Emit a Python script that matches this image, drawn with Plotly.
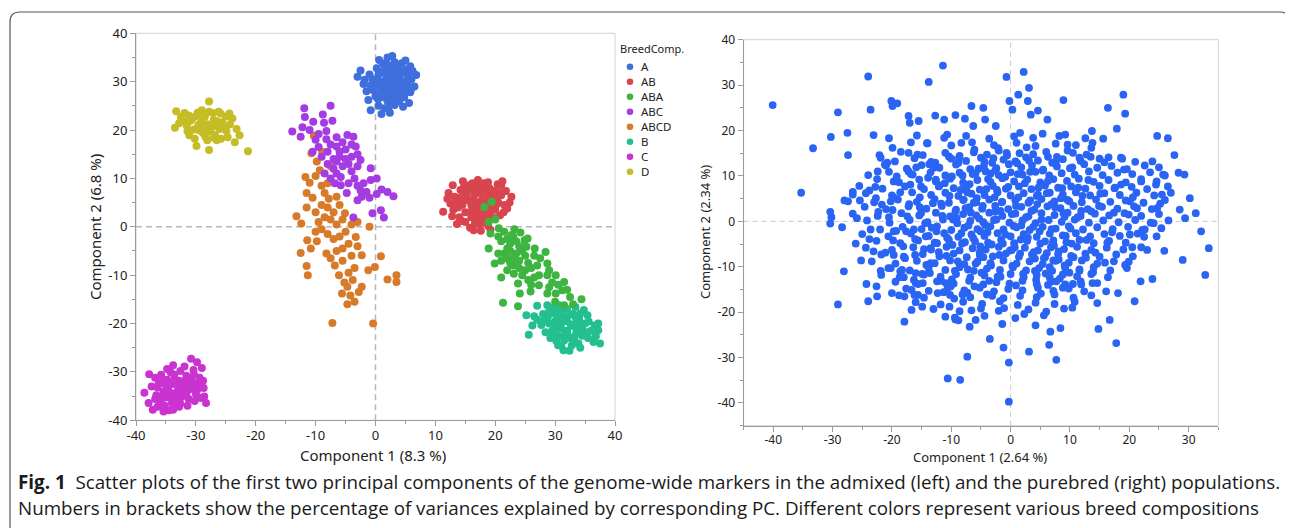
import plotly.graph_objects as go

# ---------------- data ----------------
CATEGORIES = ["A", "AB", "ABA", "ABC", "ABCD", "B", "C", "D"]
COLORS = ["#3f6fdd", "#d8454f", "#3db540", "#a43be3", "#d77b2a", "#23bf8f", "#cb33d1", "#c5bd26"]

A_PTS = [(-2.5,32.3),(-3,31),(-2,29.5),(-1.5,28),(-0.8,24.1),(1,23.3),(-1.2,26.2),(0,27),(0.5,25),(1.5,24.5),
         (2,26),(2.8,35.3),(0.6,34.5),(4.4,33.8),(6.8,31.4),(5.6,25.6),(4,25.9),(3,27),(3.5,28.5),(2.5,29),
         (1,30),(0.5,31.5),(1.5,32.5),(2,33.5),(3,32),(4,31),(5,30),(5.5,29),(4.5,28),(3.8,27),(2.2,28),
         (1.2,28.5),(0,29.5),(-0.5,30.5),(0.2,32.8),(3.2,34),(5.2,32.5),(6,30.5),(6.5,29),(5.8,27.8),(4.8,26.8),
         (3,26),(2,27.2),(1,26.8),(-0.3,28.2),(2.8,30.5),(3.6,29.8),(4.2,30.2),(1.8,31),(2.4,31.8),(3.4,31.2),
         (4.6,32),(5.4,31.2),(0.8,29),(1.6,29.6),(2.6,28.2),(4.4,29),(5,28.2),(6.2,32.2),(-1,31.5),(1.2,33.8),
         (3.8,33),(2.2,24.8),(4.6,24.8),(0.4,26.4),(5.8,33.2),(3.2,30),(2,30.4),(4,30.8),
         (1.5,27.5),(2.8,27.8),(3.6,26.2),(4.8,29.6),(5.6,30.6),(3.2,28.8),(1.9,29.2),(0.4,30.2),(-0.8,29.2),
         (2.6,32.6),(4,32.4),(3.4,33.4),(1,32),(2,35),(5,34.4),(6,28.6),(0.8,27.6),(-1.8,30.4),(2.4,23.6),(3.2,25.2)]

AB_PTS = [(11.3,3.1),(12.9,8.6),(14.6,9.4),(17.1,9.7),(21,8.6),(22.7,6.2),(13.6,0.6),(16.4,-0.7),(19.2,-0.6),
          (12.5,4.8),(22,3.8),(14,6),(15,7),(16,8),(17,8.5),(18,9),(19,8),(20,7.5),(21,6.5),(20.5,5),(21.5,4.5),
          (20,3.5),(19,2.5),(18,2),(17,1.5),(16,2),(15,3),(14.5,4.5),(15.5,5.5),(16.5,6.5),(17.5,7),(18.5,6),
          (19.5,5.5),(18,4.5),(17,4),(16,4.5),(15,1),(17.5,0.5),(18.5,1),(19.8,1.8),(13.5,5),(14.2,7.6),(16.2,9),
          (18.8,9.2),(20.4,8.8),(21.8,7.4),(13,3.5),(14,2),(16.8,3),(18.2,3.4),(19.4,4),(17.8,5.6),(16.4,5.2),
          (15.2,6.4),(20.8,2.4),(15.8,-0.2),(17.6,-0.8),(12.2,7),(19,7),(17.2,2.6),(14.8,8.4),(18.6,5),(16,7.6),
          (20.2,6.2),(21.4,3),
          (13.8,4),(14.6,5.8),(16,3.2),(16.8,7.2),(17.8,8),(18.4,7.6),(19.6,6.6),(20.8,7),(19.2,3.2),(17.4,5.2),
          (15.6,8.6),(13.2,6.2),(12,5.8),(14.4,1.2),(18.8,0.2),(20.2,4.6),(16.6,0.8),(22.4,5),(12.8,2.2),(21.2,9.4)]

ABA_PTS = [(18.2,4.1),(19.4,5.2),(18.9,1),(19.2,-1.4),(18.9,-4.5),(20.6,-0.3),(22.7,-1.7),(25.2,-4.1),(26.6,-4.5),
           (28.4,-5.2),(28.7,-7.6),(27.3,-10),(28.7,-10),(30.1,-10),(31.5,-11.4),(31.2,-13.1),(28.7,-13.8),
           (30.1,-13.8),(27.3,-12.1),(24.1,-13.8),(25.9,-13.4),(21.3,-15.7),(23.8,-16.4),(19.9,-7.6),(22.4,-6.9),
           (23.1,-9.7),(23.8,-11.7),(34.4,-15),(31.5,-16.2),(24.9,-2.8),(20,1.5),(20.5,-2),(21,-3),(21.5,-1),
           (22,-2.5),(22.5,-3.5),(23,-2),(23.5,-3),(24,-4),(24.5,-5),(23.5,-5.5),(22.5,-5),(22,-4.5),(21.5,-5.5),
           (22,-6.5),(23,-6.5),(24,-7),(25,-6),(25.5,-7.5),(26,-8.5),(25,-9),(24,-8.5),(23,-8),(22.5,-7.5),
           (24.5,-10),(25.5,-11),(26.5,-10.5),(27,-8),(26.5,-6),(27.5,-6.5),(29,-9),(29.5,-11.5),(30.5,-12),
           (32,-13),(32.5,-14.5),(33,-16),(30,-15.5),(29,-12.5),(26,-12),(22,-9),(21,-7),(20.5,-5.5),(21,-10.5),
           (23.2,-0.5),(24.2,-1.2),(25.4,-2.4)]

ABC_PTS = [(-11.9,24.5),(-7.5,25),(-8.8,23.2),(-7.2,21.9),(-13.9,19.7),(-12.5,18.6),(-11.8,22.7),(-10.4,21.7),
           (-8.6,21.5),(-4.7,19),(-3.7,18.6),(-0.8,12.1),(-0.8,9.7),(1,7.7),(3,6.3),(-1.5,7.2),(-3,5.5),(-0.5,2.8),
           (0.9,3.4),(1.4,1.9),(-3.7,1.9),(-8.2,18.1),(-6.5,16.6),(-4,14.5),(-3.3,16.6),(-5.8,10.3),(-2.3,6.2),
           (-5.8,8.6),(-11,20),(-10,18),(-9.5,16.5),(-10.5,15.5),(-9,14.5),(-8,15.5),(-7.5,17),(-6.5,18.5),
           (-5.5,17.5),(-5,16),(-4.5,13),(-5.5,12.5),(-6.5,13.5),(-7,12),(-8,13),(-8.5,11),(-7.5,10),(-6.5,11),
           (-4,11.5),(-3,12.5),(-3.5,10),(-4.5,9),(-3,8.5),(-2,9),(-2.5,7.5),(-1,6),(0.2,6.8),(2,7.2),(-6,14.5),
           (-5,14),(-6,15.5),(-7,14),(-4,17),(-3,15),(-2.5,13.8),(-9.5,19.2),(-12.2,20.6),(-8.2,19.8),(-6.8,9),
           (-4.8,7),(0.2,10)]

ABCD_PTS = [(-10.3,18.8),(-10.7,15.2),(-8.9,15.5),(-11.7,10.3),(-11,9.1),(-9.3,11.7),(-13.2,2.2),(-12.4,0.7),
            (-11.4,-2.8),(-12.5,-5.4),(-11.5,-8.1),(-11.3,-10),(-7.2,-19.9),(-0.4,-20),(-4.7,-16),(-3.5,-15.5),
            (2,-10.9),(3.5,-10),(3.5,-11.4),(0.9,-6.1),(-0.1,-8.3),(-1,0),(-2.3,-5.9),(-2.3,-12.4),(-4.7,-12.4),
            (-6.1,-10),(-8.2,-5.5),(-3.3,-2.1),(-5.1,2.8),(-6.5,6.2),(-11.5,7),(-10.5,6),(-11.5,4),(-10,3),(-9,4.5),
            (-8.5,7),(-8,9),(-9,8.5),(-10,10.5),(-8,4),(-7,3),(-6,4.5),(-5.5,1.5),(-6.5,0.5),(-7.5,1.5),(-8.5,2),
            (-9.5,1),(-10,-1),(-9,-0.5),(-8,-1.5),(-7,-2.5),(-6,-2),(-5,-1),(-4,0.5),(-4.5,-3.5),(-5.5,-4.5),
            (-6.5,-5),(-7.5,-6.5),(-6.8,-8),(-5.5,-7),(-4,-6),(-3,-4),(-3.5,-8.5),(-4.5,-9.5),(-5.2,-11.5),
            (-3.8,-11),(-2.8,-13.5),(-5.6,-13.8),(-9.8,-3),(-10.8,-4.5),(-7.5,12.5),(-9.8,13.5),(-7.8,5.8),
            (-4.2,-14.2),(-1.2,-9),(-3,1)]

B_PTS = [(25.6,-22.3),(25.2,-18.3),(27.7,-20.3),(27,-16.3),(28.7,-16.2),(30.7,-16.2),(34.2,-17.9),(35.4,-18.3),
         (37.2,-20),(37.5,-24.1),(31.4,-25.5),(30.5,-24.5),(33.9,-24.1),(37.2,-21.4),(26.5,-18.5),(28,-18),
         (29,-17.5),(30,-18),(31,-17.5),(32,-17),(33,-18),(34,-19),(35,-20),(34.5,-21),(33.5,-22),(32.5,-23),
         (31.5,-23.5),(30.5,-22.5),(29.5,-21.5),(29,-20),(30,-19.5),(31,-20),(32,-19.5),(33,-20.5),(32,-21.5),
         (31,-21),(30,-21),(33.5,-19),(34.5,-22.5),(35.5,-23),(36,-21.5),(32.8,-24.5),(29.2,-23),(28.4,-21.8),
         (31.8,-18.6),(30.4,-17),(33.4,-16.6),(35.6,-19.6),(36.4,-23.8),(32.2,-22.6),(28.2,-19.4),(27,-19.2),
         (26.2,-20.4),(34.2,-25),(31,-24.6),(32.6,-20.2),(30.8,-19),(33.8,-21.4),
         (30.2,-20.4),(31.4,-19.2),(32.6,-18.2),(34,-20.2),(33.2,-23.2),(31.6,-22.4),(29.8,-22.8),(35.2,-21.8),
         (36.6,-20.4),(28.8,-18.6),(32.4,-25.6),(30.2,-23.6),(34.8,-17.2),(29.4,-16.8),(36.8,-22.6)]

C_PTS = [(-37.8,-30.5),(-38.6,-34.3),(-37.9,-36.4),(-37.2,-37.8),(-36.4,-33.2),(-35.6,-31.9),(-35,-35.3),
         (-34.5,-37.9),(-34.2,-30.1),(-33.5,-31.5),(-33,-33.8),(-32.6,-36.6),(-31.9,-28.9),(-31.4,-32.4),
         (-30.8,-27.3),(-30.3,-30.6),(-30,-34.6),(-29.4,-31.2),(-29,-29.2),(-28.7,-33.3),(-28.6,-35.1),
         (-28.3,-36.4),(-29.5,-32.8),(-30.6,-32.9),(-31.6,-34.4),(-32.2,-33),(-33.4,-35.6),(-34.6,-33.7),
         (-35.4,-34.1),(-36,-36.2),(-35.2,-37),(-34,-36.4),(-33.8,-32.5),(-32.8,-31.8),(-31.6,-30.8),
         (-30.4,-29.6),(-32.4,-35.2),(-33.2,-34.2),(-34.4,-35.2),(-35.6,-35.4),(-36.6,-34.8),(-31.2,-35.6),
         (-29.8,-33.8),(-32.8,-37.2),(-33.6,-30.6),(-34.8,-31.6),(-31,-33.6),(-32,-32.2),(-33,-36.4),
         (-37.4,-33),(-36.8,-35.6),(-36.2,-32.4),(-35.8,-30.6),(-34.8,-29.4),(-33.8,-28.6),(-32.6,-29.8),
         (-31.8,-31.8),(-30.8,-31.4),(-30,-32.4),(-29.2,-35.4),(-30.2,-36),(-31.4,-37),(-33.8,-37.8),
         (-35.4,-38.2),(-36.4,-37.2),(-34.2,-34.4),(-32.8,-34.2),(-31.8,-33.6),(-29.8,-28),(-28.8,-31.8),
         (-35,-32.8),(-33,-32.6),(-36.8,-31.2)]

D_PTS = [(-33.5,20.5),(-33.3,23.9),(-32.5,22.7),(-31.9,23.5),(-31.5,20.9),(-31.1,18.9),(-30.6,22.3),
         (-30.3,20.1),(-29.9,16.7),(-29.7,23.6),(-29.2,21.5),(-28.8,19.4),(-28.5,22.8),(-28.1,17.9),
         (-27.8,25.9),(-27.8,15.9),(-27.5,20.7),(-27.2,23.5),(-26.8,19),(-26.5,21.8),(-26.2,23.8),(-25.8,18.2),
         (-25.3,20.5),(-25,22.8),(-24.7,18.5),(-24.3,21.2),(-23.9,22.4),(-23.5,17.5),(-22.7,18.9),(-21.3,15.6),
         (-30.9,21.9),(-29.4,19.9),(-28.1,21.2),(-27,22.1),(-26,20.2),(-24.9,19.8),(-29,24.1),(-31.9,21.7),
         (-28.4,18.6),(-26.5,17.9),(-25.9,23.4),(-30,22.9),(-27.6,19.7),
         (-32.8,21.4),(-31.2,23),(-30.2,18.2),(-28.8,22.6),(-27.8,23.8),(-26.8,20.8),(-25.6,21.6),(-24.4,23.4),
         (-29.6,21),(-27,18.4),(-23.2,20.2),(-28.4,20.2),(-31.4,19.8)]

RIGHT_PTS = [
    (-40.1,25.6),(-35.3,6.3),(-33.3,16.1),(-30.3,18.6),(-29.1,24),(-30.4,2.1),(-30.2,0.9),(-30.4,-0.5),(-29.1,-18.3),
    (-28.1,-11),(-27.5,19.5),(-27.4,14.6),(-27.4,4.4),(-26.6,5.9),(-26.6,6.5),(-25.9,0.7),(-26.1,-4.9),(-25.4,4.6),
    (-25.2,-8.6),(-24.3,-13.8),(-24,-17.6),(-24,31.9),(-23.8,6.8),(-23.8,-3.9),(-23.6,24.6),(-23.6,-1.8),(-23.1,19),
    (-23.1,-6.6),(-22.8,7.6),(-22.7,5.1),(-22.6,-14.3),(-22.5,-16.5),(-22.4,11),(-22.3,2.1),(-22.1,14.6),(-21.9,14),
    (-21.9,-10.9),(-21.7,3.7),(-21.2,12.5),(-20.8,12.9),(-20.5,0.9),(-20.2,4.4),(-20.2,-10.3),(-20.1,26.5),
    (-19.9,16.2),(-19.9,25.4),(-19.8,-4.2),(-19.7,8.8),(-19.7,5.3),(-19.7,-2.2),(-20,-15.8),(-19.7,-7.4),(-19.3,-2.1),
    (-19.1,26),(-18.7,-12.3),(-18.6,-11),(-18.3,-10.7),(-17.9,-22.1),(-17.9,-16.5),(-17.6,-2.2),(-17.2,23.2),
    (-17.2,15.1),(-17.2,11),(-17.1,3.8),(-17,21.7),(-16.8,17.4),(-16.8,10.4),(-16.7,-15.1),(-16.7,-19.5),(-16.3,-1.8),
    (-16.1,-7.4),(-16,-11.4),(-16,-13.6),(-15.7,14.7),(-15.6,-16.2),(-15.5,22.1),(-15.3,5.3),(-15.1,1.8),(-15.1,7.7),
    (-14.9,-11.6),(-14.9,-18.8),(-14.8,-13.6),(-14.4,-0.4),(-14.3,-3.3),(-14.1,17.2),(-13.8,30.7),(-13.7,12.6),
    (-13.5,-5.9),(-13.5,-9.2),(-13,11.8),(-12.7,23.3),(-12.6,9.2),(-12.5,-2.2),(-12.3,-15.8),(-12.1,7.7),(-11.7,-13.1),
    (-11.4,34.3),(-11.2,22.4),(-11,-21),(-10.7,19.1),(-10.6,-34.6),(-10.4,14.3),(-10.3,-18.8),(-10.1,-14.3),
    (-9.3,23.4),(-9.3,-21.6),(-8.8,12.9),(-8.5,-34.9),(-8.3,17.3),(-7.7,22.6),(-7.3,-29.8),(-6.9,-23.2),(-6.6,25.4),
    (-6.3,21),(-5.9,-21.7),(-4.6,25),(-4.3,22.4),(-3.5,-25.9),(-2.5,21),(-1.4,-22.6),(-1.2,-27.8),(-0.7,31.8),
    (-0.3,-31.1),(-0.3,-39.7),(-0.2,26.5),(0.3,24.6),(1.3,27.9),(1.6,19.5),(2.2,32.9),(2.9,26.5),(3.1,29.4),
    (3.1,-28.7),(3.4,23.5),(4.2,-22.9),(4.6,24.4),(5.4,19.3),(6.2,22.4),(6.5,-27.2),(6.7,-24.3),(7.7,-30.5),
    (8.4,-23.5),(8.9,26.7),(9.2,19.1),(9.6,16.9),(10.4,-19),(11.6,14),(13.7,19.9),(13.6,16.2),(13.8,-13.6),
    (14.6,-18),(14.8,-23.7),(16.4,25),(15.6,18.2),(16.5,14.1),(16.7,-21.7),(17.8,-26.8),(17.9,20.4),(18.1,-15.8),
    (19,27.9),(19.3,23.7),(20.9,-17.6),(21.9,-13.2),(23.9,13.2),(23.9,-12.7),(24.7,18.8),(25.9,-6.5),(26.5,18.3),
    (27.6,14.6),(28.3,10.7),(28.5,2.6),(29,-8.5),(29.3,10.3),(29.4,0.7),(30.2,5.1),(31.2,1.8),(32.1,-2.2),
    (32.8,-11.8),(33.4,-5.9),(27,6.3),(25.5,5.9),(25.7,10.3),(25.2,3.9),(24.5,8.1),(24.1,-0.4),(25.4,-1.5),(22,8.8),
    (22.2,-1.9),(22.5,-3.4),(23,-6.3),(24.7,2.9),(21.3,2.9),(20.1,4.4),(19.9,1.5),(20.1,-2.9),(20.5,-5.7),(19.3,-9.6),
    (19.1,11.4),(18.6,14),(17.6,7.4),
    (-14,17.2),(-10,16.7),(-6.5,17.4),(-2.8,16.8),(1,17.3),(4.2,16.6),(7.6,17.1),(11,16.8),(13.8,17.3),
    (-20.5,18.3),(-15.8,18.9),(-11.2,18.4),(-7.5,18.8),(-3.6,18.2),(0.6,18.7),(3.8,18.4),(8.2,18.8),(12.6,18.3),
    (-18.5,15.3),(-14.8,14.6),(-11,15.1),(-8.6,14.4),(-6.2,15.2),(-4,14.7),(-2,15.6),(-0.6,14.5),(1.5,15.0),(3.8,14.8),
    (6,15.3),(7.8,14.2),(10.5,15.1),(12.8,14.7),(15,13.8),
    (-19.5,13.2),(-16.2,13.9),(-13.4,13.1),(-10,13.8),(-7.5,13.3),(-5,14),(-3.1,12.9),(-1.2,13.6),(0.8,13.2),(2.6,14.1),
    (4.6,13.4),(7,12.9),(8.8,13.7),(11.8,13.3),(13.5,14.2),(15.8,13),(18.8,13.8),(21,13.1),
    (-21,12.3),(-17.5,11.6),(-15,12.4),(-12,11.8),(-9.2,12.5),(-6.8,11.5),(-4.5,12.2),(-2.4,11.7),(-0.3,12.6),(1.8,11.9),
    (3.6,12.3),(5.5,11.4),(7.8,12.1),(10,11.7),(12.4,12.6),(14.6,11.8),(17,12.2),(19.6,11.5),(22.6,12.3),(25,11.9),
    (-24,10.2),(-20.5,10.9),(-16.5,10.3),(-13.5,10.8),(-11,10.1),(-8.6,10.7),(-6.4,10.4),(-4.2,11),(-2,10.2),(0,10.8),
    (2,10.3),(4.2,10.9),(6.5,10.1),(8.6,10.6),(10.8,10.3),(13.2,11),(15.5,10.2),(18,10.7),(20.5,10.4),(23.5,10.8),(26,10.1),
    (-22.5,9.3),(-18.8,8.6),(-15.4,9.2),(-12.6,8.8),(-10.2,9.4),(-8,8.5),(-5.6,9.1),(-3.4,8.7),(-1.4,9.5),(0.6,8.8),
    (2.8,9.2),(5,8.6),(7.2,9.3),(9.5,8.9),(11.5,9.4),(14,8.7),(16.5,9.1),(19.4,8.6),(22,9.3),(24.6,8.8),
    (-25.5,7.8),(-21.6,7.2),(-17.8,7.7),(-14.6,7.1),(-12,7.9),(-9.6,7.3),(-7.4,7.6),(-5.2,7.0),(-3,7.8),(-0.8,7.2),
    (1.4,7.7),(3.5,7.1),(5.8,7.9),(8,7.4),(10.2,7.7),(12.6,7.2),(15,7.8),(17.5,7.3),(20.4,7.6),(23,7.1),(26.5,7.7),
    (-24.4,6.2),(-20,5.7),(-16.6,6.4),(-13.4,5.8),(-11,6.3),(-8.8,5.6),(-6.6,6.1),(-4.4,5.8),(-2.2,6.4),(0,5.7),
    (2.2,6.2),(4.4,5.6),(6.6,6.3),(8.8,5.9),(11,6.4),(13.4,5.7),(15.8,6.2),(18.4,5.8),(21.2,6.3),(24.2,5.7),
    (-28,4.6),(-23,4.2),(-19,4.8),(-15.8,4.3),(-12.8,4.9),(-10.4,4.1),(-8,4.7),(-5.8,4.2),(-3.6,4.8),(-1.4,4.3),
    (0.8,4.6),(3,4.1),(5.2,4.9),(7.4,4.4),(9.6,4.7),(12,4.2),(14.4,4.8),(16.8,4.3),(19.4,4.6),(22.4,4.1),(26,4.7),
    (-24.6,3.2),(-21,2.7),(-17.2,3.3),(-14.2,2.8),(-11.6,3.4),(-9.2,2.6),(-7,3.1),(-4.8,2.8),(-2.6,3.4),(-0.4,2.7),
    (1.8,3.2),(4,2.6),(6.2,3.3),(8.4,2.9),(10.6,3.4),(13,2.7),(15.4,3.2),(18,2.8),(20.8,3.3),(23.8,2.7),
    (-26.6,1.7),(-22.4,1.2),(-18.4,1.8),(-15.4,1.3),(-12.6,1.9),(-10.2,1.1),(-8,1.6),(-5.8,1.3),(-3.6,1.9),(-1.4,1.2),
    (0.8,1.7),(3,1.1),(5.2,1.8),(7.4,1.4),(9.6,1.9),(11.8,1.2),(14.2,1.7),(16.6,1.3),(19.2,1.8),(22,1.2),(25,1.6),
    (-24.2,0.2),(-20.4,-0.3),(-17,0.3),(-14,-0.2),(-11.4,0.4),(-9,-0.4),(-6.8,0.1),(-4.6,-0.2),(-2.4,0.4),(-0.2,-0.3),
    (2,0.2),(4.2,-0.4),(6.4,0.3),(8.6,-0.1),(10.8,0.4),(13.2,-0.3),(15.6,0.2),(18.2,-0.2),(21,0.3),(23.6,-0.3),(26.6,0.2),
    (-28.4,-1.3),(-22,-1.8),(-18.2,-1.2),(-15,-1.7),(-12.4,-1.1),(-10,-1.9),(-7.8,-1.4),(-5.6,-1.7),(-3.4,-1.1),(-1.2,-1.8),
    (1,-1.3),(3.2,-1.9),(5.4,-1.2),(7.6,-1.6),(9.8,-1.1),(12.2,-1.8),(14.6,-1.3),(17.2,-1.7),(19.8,-1.2),(22.6,-1.8),
    (-25,-2.8),(-20.6,-3.3),(-16.8,-2.7),(-13.8,-3.2),(-11.2,-2.6),(-8.8,-3.4),(-6.6,-2.9),(-4.4,-3.2),(-2.2,-2.6),(0,-3.3),
    (2.2,-2.8),(4.4,-3.4),(6.6,-2.7),(8.8,-3.1),(11,-2.6),(13.4,-3.3),(15.8,-2.8),(18.4,-3.2),(21.4,-2.7),(24.6,-3.3),
    (-22.6,-4.3),(-18.6,-4.8),(-15.6,-4.2),(-12.8,-4.7),(-10.4,-4.1),(-8.2,-4.9),(-6,-4.4),(-3.8,-4.7),(-1.6,-4.1),
    (0.6,-4.8),(2.8,-4.3),(5,-4.9),(7.2,-4.2),(9.4,-4.6),(11.6,-4.1),(14,-4.8),(16.6,-4.3),(19.4,-4.7),
    (-24.4,-5.8),(-20,-6.3),(-16.4,-5.7),(-13.4,-6.2),(-10.8,-5.6),(-8.6,-6.4),(-6.4,-5.9),(-4.2,-6.2),(-2,-5.6),
    (0.2,-6.3),(2.4,-5.8),(4.6,-6.4),(6.8,-5.7),(9,-6.1),(11.2,-5.6),(13.6,-6.3),(16.2,-5.8),(19,-6.2),(22,-5.7),
    (-21.8,-7.3),(-18,-7.8),(-14.8,-7.2),(-12,-7.7),(-9.6,-7.1),(-7.4,-7.9),(-5.2,-7.4),(-3,-7.7),(-0.8,-7.1),
    (1.4,-7.8),(3.6,-7.3),(5.8,-7.9),(8,-7.2),(10.2,-7.6),(12.6,-7.1),(15,-7.8),(17.8,-7.3),(20.6,-7.7),
    (-23.4,-8.8),(-19.4,-9.3),(-15.8,-8.7),(-12.8,-9.2),(-10.2,-8.6),(-7.8,-9.4),(-5.6,-8.9),(-3.4,-9.2),(-1.2,-8.6),
    (1,-9.3),(3.2,-8.8),(5.4,-9.4),(7.6,-8.7),(9.8,-9.1),(12,-8.6),(14.6,-9.3),(17.4,-8.8),
    (-20.6,-10.3),(-17,-10.8),(-13.8,-10.2),(-11,-10.7),(-8.6,-10.1),(-6.2,-10.9),(-4,-10.4),(-1.8,-10.7),(0.4,-10.1),
    (2.6,-10.8),(4.8,-10.3),(7,-10.9),(9.2,-10.2),(11.6,-10.6),(14,-10.1),(16.8,-10.8),(19.6,-10.3),
    (-21.8,-11.8),(-18,-12.3),(-14.6,-11.7),(-11.8,-12.2),(-9.2,-11.6),(-6.8,-12.4),(-4.4,-11.9),(-2.2,-12.2),(0,-11.6),
    (2.2,-12.3),(4.4,-11.8),(6.6,-12.4),(8.8,-11.7),(11.2,-12.1),(13.6,-11.6),(16.4,-12.3),
    (-19.4,-13.3),(-15.6,-13.8),(-12.4,-13.2),(-9.6,-13.7),(-7,-13.1),(-4.6,-13.9),(-2.4,-13.4),(-0.2,-13.7),(2,-13.1),
    (4.4,-13.8),(6.8,-13.3),(9.2,-13.9),(11.8,-13.2),(14.6,-13.6),
    (-17.6,-14.8),(-13.8,-15.3),(-10.6,-14.7),(-7.8,-15.2),(-5.2,-14.6),(-2.8,-15.4),(-0.4,-14.9),(2,-15.2),(4.6,-14.6),
    (7.2,-15.3),(9.8,-14.8),(12.4,-15.4),
    (-18.8,-16.3),(-14.6,-16.8),(-10.2,-16.2),(-6.8,-16.7),(-4,-16.1),(-1.2,-16.9),(1.6,-16.4),(4.4,-16.7),(7.4,-16.1),
    (10.6,-16.8),(13.6,-16.3),
    (-16,-17.8),(-11.8,-18.3),(-8,-17.7),(-4.8,-18.2),(-1.8,-17.6),(1.2,-18.4),(4.2,-17.9),(7.4,-18.2),(10.8,-17.7),
    (-13,-19.3),(-8.6,-19.8),(-5,-19.2),(-2,-19.7),(3,-19.4),(6,-19.9),(9,-19.2),
    (-9.4,-21.2),(-4.4,-20.8),(0.8,-21.3),(5.6,-20.7),
    (-9.3,2.2),(-7.1,-0.9),(-5.3,0.6),(-3.9,-2.4),(-1.7,2.3),(0.5,-1.0),(2.6,0.9),(4.9,-2.2),(6.1,-7.0),(7.3,-5.3),
    (8.1,-8.4),(5.6,-8.1),(3.9,-6.8),(-6.2,4.1),(-4.1,7.1),(-2.7,5.3),(-8.4,6.9),(-10.7,-3.6),(-12.1,-6.8),(-7.7,-4.6),
    (-5.1,-5.5),(-3.3,-9.7),(1.7,-4.0),(3.3,4.6),(4.7,7.4),(6.9,3.8),(9.1,1.0),(10.3,-4.9),(11.9,2.3),(-0.9,9.8),
    (1.1,12.8),(-2.9,13.9),(-5.9,10.6),(-9.9,9.9),(-14.2,-9.6),(-16.3,-12.9),(-9.9,-12.8),(-6.1,-14.3),(-11.3,-15.6),
    (6.3,-14.0),(9.9,-11.3),(12.7,-8.0),(8.5,5.1),(14.9,3.4),(17.1,-2.4),(-13.1,4.0),(-16.9,8.1),(-18.1,-5.5),
    (-19.9,2.5),(-8.1,-16.1),(-9.5,-17.0),(-8.8,-21.8),(4.1,-10.9),(5.9,-11.5),(7.7,-13.2),(8.8,-14.6),(10.5,-13.8),
    (-11.7,3.9),(-10.3,5.6),(-9.1,0.7),(-8.3,-2.6),(-7.6,2.9),(-6.9,8.2),(-6.3,-3.7),(-5.7,5.1),(-5.2,-6.8),(-4.7,3.4),
    (-4.3,-0.8),(-3.8,9.3),(-3.2,-5.1),(-2.8,0.3),(-2.3,6.9),(-1.9,-7.4),(-1.5,4.2),(-0.9,-2.9),(-0.4,7.6),(0.2,1.6),
    (0.7,-5.7),(1.3,5.3),(1.8,-0.9),(2.4,8.4),(2.9,-3.6),(3.5,2.3),(4.1,-8.2),(4.6,5.9),(5.2,0.4),(5.8,-4.4),
    (6.3,8.9),(6.9,-1.7),(7.5,3.1),(8.1,-6.6),(8.7,7.3),(9.3,-3.2),(9.9,4.4),(10.6,-7.9),(11.3,0.9),(12.1,5.6),
    (12.8,-4.1),(13.6,2.2),(-13.3,-1.4),(-12.4,-4.8),(-11.5,1.2),(-10.8,-7.6),(-9.8,-5.2),(-8.9,-8.8),(-7.9,4.8),
    (-7.2,-10.6),(-6.7,1.9),(-5.9,-9.3),(-5.4,11.6),(-4.9,-11.3),(-4.4,13.1),(-3.6,-13.1),(-2.6,11.2),(-1.7,-12.2),
    (-0.7,15.1),(0.3,-9.8),(1.2,10.4),(2.1,-11.6),(3.1,13.4),(4.3,-12.9),(5.4,11.2),(6.6,-10.1),(7.8,13.6),(9.1,-9.7),
    (10.4,11.9),(11.6,-10.9),(-15.3,3.1),(-14.6,-6.1),(-16.1,-3.9),(-17.4,1.1),(-18.6,6.4),(-13.9,9.6),(-12.7,12.9),
    (-15.9,11.9),(14.3,-6.9),(15.1,6.1),(16.3,-4.7),(17.4,1.9),(18.6,8.1),(15.9,-9.1),(13.1,9.1),(-8.7,13.9),
    (-6.1,15.8),(-2.1,16.1),(2.7,16.3),(6.3,14.2),(9.6,15.6),(-10.9,-13.6),(-7.3,-15.7),(-3.1,-16.4),(0.9,-14.1),
    (5.1,-15.9),(8.3,-12.6),(11.9,-13.9),(-1.1,-19.1),(2.3,-20.4),(-6.6,-19.6),(-9.7,0.4),(-8.1,10.1),(-4.6,-7.9),
    (-1.3,-4.9),(1.6,-7.1),(3.8,-1.2),(6.1,6.2),(7.2,-8.6),(8.9,1.8),(10.1,-1.6),(-2.6,2.1),(0.9,3.4),(-5.1,-2.2),
    (-7.3,6.4),(4.5,3.8),(-11.1,8.4),(11.4,7.4),(-0.1,-6.4),(3.3,10.9),(-3.4,10.5),(-9.4,-10.9),(7.1,-4.9),
    (-13.6,-11.4),(13.9,-11.2),(-17.8,-8.1),(-19.2,9.9),(19.9,-8.9),(20.6,5.3),(-21.1,-6.9),(-16.2,-16.2),(16.1,-15.4)]

LEFT_TICKS = [-40, -30, -20, -10, 0, 10, 20, 30, 40]
LEFT_TICK_TEXT = ["-40", "-30", "-20", "-10", "0", "10", "20", "30", "40"]
RIGHT_X_TICKS = [-40, -30, -20, -10, 0, 10, 20, 30]
RIGHT_X_TICK_TEXT = ["-40", "-30", "-20", "-10", "0", "10", "20", "30"]
RIGHT_Y_TICKS = [-40, -30, -20, -10, 0, 10, 20, 30, 40]
RIGHT_Y_TICK_TEXT = ["-40", "-30", "-20", "-10", "0", "10", "20", "30", "40"]

LEFT_X_TITLE = "Component 1 (8.3 %)"
LEFT_Y_TITLE = "Component 2 (6.8 %)"
RIGHT_X_TITLE = "Component 1 (2.64 %)"
RIGHT_Y_TITLE = "Component 2 (2.34 %)"
LEGEND_TITLE = "BreedComp."
RIGHT_COLOR = "#2a64f5"
CAPTION_1 = ("<b>Fig. 1</b>  Scatter plots of the first two principal components of the genome-wide markers "
             "in the admixed (left) and the purebred (right) populations.")
CAPTION_2 = ("Numbers in brackets show the percentage of variances explained by corresponding PC. "
             "Different colors represent various breed compositions")

# ---------------- figure ----------------
W, H = 1293, 528
OX, OY = 8, 8   # page offset of the plot inside the browser window


def fx(p):
    return (p - OX) / W


def fy(p):
    return 1 - (p - OY) / H


SERIES = dict(zip(CATEGORIES, [A_PTS, AB_PTS, ABA_PTS, ABC_PTS, ABCD_PTS, B_PTS, C_PTS, D_PTS]))
CMAP = dict(zip(CATEGORIES, COLORS))
DRAW_ORDER = ["A", "AB", "ABCD", "ABC", "B", "ABA", "C", "D"]

fig = go.Figure()
for cat in DRAW_ORDER:
    pts = SERIES[cat]
    fig.add_trace(go.Scatter(x=[p[0] for p in pts], y=[p[1] for p in pts], mode="markers", name=cat,
                             marker=dict(size=8, color=CMAP[cat], line=dict(width=0)),
                             xaxis="x", yaxis="y", showlegend=False))
fig.add_trace(go.Scatter(x=[p[0] for p in RIGHT_PTS], y=[p[1] for p in RIGHT_PTS], mode="markers",
                         marker=dict(size=7.8, color=RIGHT_COLOR, line=dict(width=0)),
                         xaxis="x2", yaxis="y2", showlegend=False))

FONT = "Noto Sans, Open Sans, DejaVu Sans, sans-serif"
axis_common = dict(showgrid=False, zeroline=False, showline=True, linecolor="#9a9a9a", linewidth=1,
                   ticks="outside", tickcolor="#9a9a9a", ticklen=5, fixedrange=True, automargin=False,
                   minor=dict(ticks="outside", ticklen=3, tickcolor="#9a9a9a", showgrid=False,
                              dtick=5, tick0=0))

fig.update_layout(
    template="none",
    width=W, height=H, margin=dict(l=0, r=0, t=0, b=0, pad=0, autoexpand=False),
    paper_bgcolor="white", plot_bgcolor="white", showlegend=False,
    font=dict(family=FONT, color="#222"),
    xaxis=dict(domain=[fx(136), fx(615)], range=[-40, 40], tickvals=LEFT_TICKS, ticktext=LEFT_TICK_TEXT,
               anchor="y", tickfont=dict(size=13, color="#222"), **axis_common),
    yaxis=dict(domain=[fy(420.3), fy(33.3)], range=[-40, 40], tickvals=LEFT_TICKS, ticktext=LEFT_TICK_TEXT,
               anchor="x", tickfont=dict(size=13, color="#222"), **axis_common),
    xaxis2=dict(domain=[fx(743.6), fx(1218.3)], range=[-45, 35], tickvals=RIGHT_X_TICKS,
                ticktext=RIGHT_X_TICK_TEXT, anchor="y2", tickfont=dict(size=12, color="#222"), **axis_common),
    yaxis2=dict(domain=[fy(425.7), fy(39.7)], range=[-45, 40], tickvals=RIGHT_Y_TICKS,
                ticktext=RIGHT_Y_TICK_TEXT, anchor="x2", tickfont=dict(size=12, color="#222"), **axis_common),
)
fig.update_xaxes(ticklabelstandoff=-2)

shapes = []
for xr, yr in (("x", "y"), ("x2", "y2")):
    shapes.append(dict(type="rect", xref=f"{xr} domain", yref=f"{yr} domain", x0=0, x1=1, y0=0, y1=1,
                       line=dict(color="#d2d2d2", width=1), layer="below"))
shapes += [
    dict(type="line", xref="x", yref="y domain", x0=0, x1=0, y0=0, y1=1,
         line=dict(color="#b8b8b8", width=1.5, dash="6px,4px"), layer="below"),
    dict(type="line", xref="x domain", yref="y", x0=0, x1=1, y0=0, y1=0,
         line=dict(color="#b8b8b8", width=1.5, dash="6px,4px"), layer="below"),
    dict(type="line", xref="x2", yref="y2 domain", x0=0, x1=0, y0=0, y1=1,
         line=dict(color="#c8c8c8", width=1, dash="5px,4px"), layer="below"),
    dict(type="line", xref="x2 domain", yref="y2", x0=0, x1=1, y0=0, y1=0,
         line=dict(color="#c8c8c8", width=1, dash="5px,4px"), layer="below"),
]
for i, cat in enumerate(CATEGORIES):
    cy = 66.7 + 15 * i
    shapes.append(dict(type="circle", xref="paper", yref="paper",
                       x0=fx(630 - 3.3), x1=fx(630 + 3.3), y0=fy(cy + 3.3), y1=fy(cy - 3.3),
                       fillcolor=CMAP[cat], line=dict(width=0)))
L, R, T, B, r = 10, 1290, 12, 545, 10
path = (f"M {fx(L + r)},{fy(T)} L {fx(R - r)},{fy(T)} Q {fx(R)},{fy(T)} {fx(R)},{fy(T + r)} "
        f"L {fx(R)},{fy(B - r)} Q {fx(R)},{fy(B)} {fx(R - r)},{fy(B)} "
        f"L {fx(L + r)},{fy(B)} Q {fx(L)},{fy(B)} {fx(L)},{fy(B - r)} "
        f"L {fx(L)},{fy(T + r)} Q {fx(L)},{fy(T)} {fx(L + r)},{fy(T)} Z")
shapes.append(dict(type="path", xref="paper", yref="paper", path=path,
                   line=dict(color="#555", width=1.2), layer="below"))
fig.update_layout(shapes=shapes)


def note(text, x, y, size, xanchor="center", angle=0, family=None, color="#222"):
    f = dict(size=size, color=color)
    if family:
        f["family"] = family
    return dict(text=text, x=fx(x), y=fy(y), xref="paper", yref="paper", showarrow=False,
                xanchor=xanchor, yanchor="middle", textangle=angle, font=f, borderpad=0)


ann = [
    note(LEFT_X_TITLE, 373, 455, 15),
    note(LEFT_Y_TITLE, 95, 227, 15, angle=-90),
    note(RIGHT_X_TITLE, 980, 457, 13),
    note(RIGHT_Y_TITLE, 705, 232, 13, angle=-90),
    note(LEGEND_TITLE, 619, 48, 11, xanchor="left"),
]
for i, cat in enumerate(CATEGORIES):
    ann.append(note(cat, 640, 66.7 + 15 * i, 11.5, xanchor="left"))
CAP_FONT = "Open Sans, Noto Sans, sans-serif"
ann.append(note(CAPTION_1, 17, 482, 18.8, xanchor="left", family=CAP_FONT, color="#1a1a1a"))
ann.append(note(CAPTION_2, 17, 508, 18.8, xanchor="left", family=CAP_FONT, color="#1a1a1a"))
fig.update_layout(annotations=ann)

fig.write_html("out.html")
